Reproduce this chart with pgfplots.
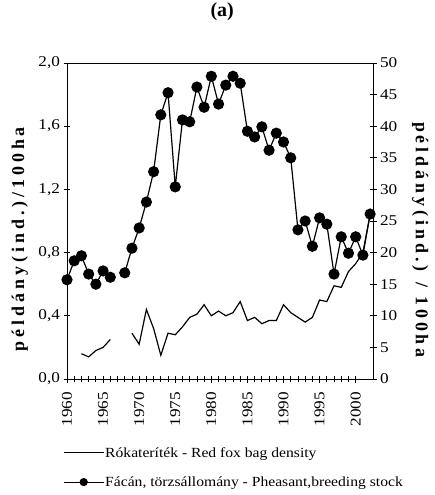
\documentclass[border=0pt]{standalone}
\usepackage{pgfplots}
\pgfplotsset{compat=1.18}
\usepackage{fontspec}
\setmainfont{Liberation Serif}
\newfontfamily\tickfont[FakeStretch=1.15]{Liberation Serif}
\newfontfamily\legfont[FakeStretch=1.12]{Liberation Serif}
\newfontfamily\labfont[LetterSpace=22]{Liberation Serif}

% fox bag density (left axis, ind./100ha)
\pgfplotstableread{
year fox
1962 0.16
1963 0.14
1964 0.18
1965 0.20
1966 0.25
1967 nan
1968 nan
1969 0.29
1970 0.22
1971 0.44
1972 0.32
1973 0.15
1974 0.29
1975 0.28
1976 0.33
1977 0.39
1978 0.41
1979 0.47
1980 0.40
1981 0.43
1982 0.40
1983 0.42
1984 0.49
1985 0.37
1986 0.39
1987 0.35
1988 0.37
1989 0.37
1990 0.47
1991 0.42
1992 0.39
1993 0.36
1994 0.39
1995 0.50
1996 0.49
1997 0.59
1998 0.58
1999 0.68
2000 0.73
2001 0.80
2002 1.04
}\foxtable

% pheasant breeding stock (right axis, ind./100ha)
\pgfplotstableread{
year ph
1960 15.7
1961 18.7
1962 19.5
1963 16.6
1964 15.0
1965 17.1
1966 16.1
1967 nan
1968 16.8
1969 20.7
1970 23.9
1971 28.0
1972 32.8
1973 41.8
1974 45.3
1975 30.4
1976 41.0
1977 40.7
1978 46.2
1979 43.0
1980 47.9
1981 43.5
1982 46.5
1983 47.9
1984 46.8
1985 39.2
1986 38.3
1987 39.9
1988 36.2
1989 38.9
1990 37.5
1991 35.0
1992 23.6
1993 25.0
1994 21.0
1995 25.5
1996 24.5
1997 16.6
1998 22.5
1999 19.9
2000 22.5
2001 19.6
2002 26.1
}\phtable

\pgfplotsset{
  common/.style={
    scale only axis,
    width=306bp, height=316bp,
    xmin=1960, xmax=2002.4,
    tick align=center,
    major tick length=7bp,
    minor tick length=6bp,
    every tick/.style={black, line width=0.8pt},
    tick label style={font=\tickfont\fontsize{15}{17}\selectfont},
    label style={font=\labfont\bfseries\fontsize{18}{20}\selectfont},
    /pgf/number format/assume math mode=true,
    unbounded coords=jump,
  }
}

\begin{document}
\begin{tikzpicture}
  \useasboundingbox (-67bp,-116bp) rectangle (368bp,379bp);
  \begin{axis}[
      common,
      at={(0,0)}, anchor=south west,
      axis line style={line width=0.9pt},
      ymin=0, ymax=2,
      ytick={0,0.4,0.8,1.2,1.6,2.0},
      ytick pos=left,
      xtick pos=bottom,
      xtick={1960,1965,...,2000},
      minor x tick num=4,
      x tick label style={yshift=-6bp, rotate=90, anchor=east, /pgf/number format/1000 sep={}},
      y tick label style={/pgf/number format/.cd, use comma, fixed, fixed zerofill, precision=1},
      ylabel={példány(ind.)/100ha},
      ylabel style={at={(axis description cs:-0.154,0.443)}, anchor=center},
      title={(a)},
      title style={font=\bfseries\fontsize{20}{22}\selectfont,
        at={(axis description cs:0.507,1.142)}, anchor=center},
    ]
    \addplot[black, line width=1.2pt, no markers] table[x=year, y=fox] {\foxtable};
  \end{axis}
  \begin{axis}[
      common,
      at={(0,0)}, anchor=south west,
      axis x line=none,
      axis y line*=right,
      axis line style={line width=0.9pt},
      ymin=0, ymax=50,
      ytick={0,5,...,50},
      ylabel={példány(ind.) / 100ha},
      ylabel style={at={(axis description cs:1.154,0.44)}, anchor=center, rotate=180},
      legend style={draw=none, fill=none, inner sep=0pt,
        at={(axis description cs:-0.013,-0.212)}, anchor=north west,
        font=\legfont\fontsize{14}{16}\selectfont, row sep=16bp,
        nodes={inner sep=1pt},
        cells={anchor=west}},
      legend cell align=left,
      legend image code/.code={
        \draw[#1, mark=none, line width=1pt] (0bp,0bp) -- (40bp,0bp);
        \draw[#1, only marks, mark size=3.5pt] plot coordinates {(20bp,0bp)};
      },
    ]
    \addlegendimage{black, line width=1.2pt, no markers}
    \addlegendentry{Rókateríték - Red fox bag density}
    \addplot[black, line width=1.2pt, mark=*, mark size=5pt] table[x=year, y=ph] {\phtable};
    \addlegendentry{Fácán, törzsállomány - Pheasant,breeding stock}
  \end{axis}
\end{tikzpicture}
\end{document}
